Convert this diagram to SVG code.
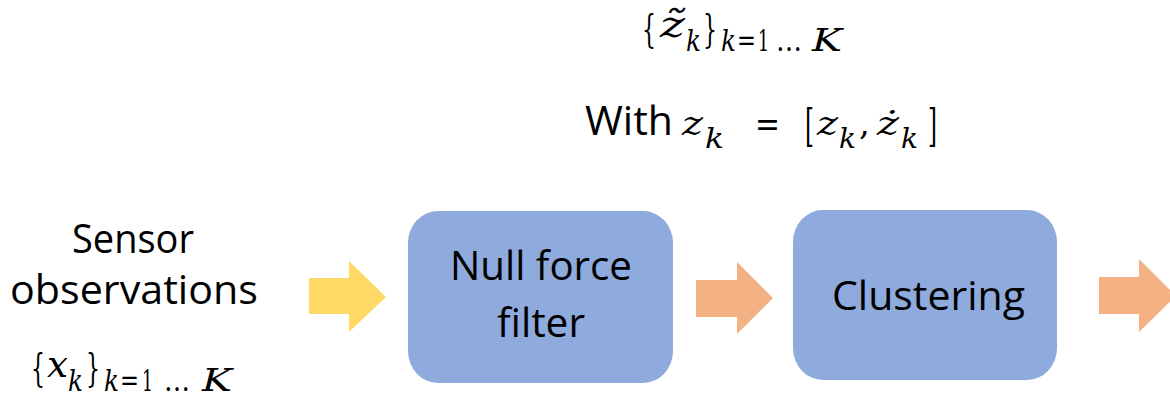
<svg xmlns="http://www.w3.org/2000/svg" width="1170" height="397" viewBox="0 0 1170 397">
<style>
.t{font-family:"Open Sans","Noto Sans","Liberation Sans",sans-serif;font-size:40px;fill:#000}
.mi{font-family:"DejaVu Serif","Liberation Serif",serif;font-style:italic;fill:#000}
.mu{font-family:"DejaVu Serif","Liberation Serif",serif;fill:#000}
.box{fill:#8FAADC}
</style>
<rect width="1170" height="397" fill="#fff"/>
<g id="connectors">
<polygon fill="#FFD966" points="309,278 349,278 349,261 386,297 349,332 349,314 309,314"/>
<polygon fill="#F4B183" points="696,280 737,280 737,262 773,298 737,334 737,317 696,317"/>
<polygon fill="#F4B183" points="1099,277 1139,277 1139,259 1176,296 1139,332 1139,314 1099,314"/>
</g>
<g id="sensor">
<text class="t" x="72" y="253" textLength="122" lengthAdjust="spacingAndGlyphs">Sensor</text>
<text class="t" x="10" y="304" textLength="248" lengthAdjust="spacingAndGlyphs">observations</text>
<text class="mu" font-size="40" x="31" y="381" textLength="14" lengthAdjust="spacingAndGlyphs">{</text>
<text class="mi" font-size="38" x="47" y="377" textLength="21" lengthAdjust="spacingAndGlyphs">x</text>
<text class="mi" font-size="29" x="68" y="391" textLength="15" lengthAdjust="spacingAndGlyphs">k</text>
<text class="mu" font-size="40" x="86" y="381" textLength="14" lengthAdjust="spacingAndGlyphs">}</text>
<text class="mi" font-size="29" x="104" y="391" textLength="15" lengthAdjust="spacingAndGlyphs">k</text>
<text class="mu" font-size="29" x="120" y="390" textLength="19" lengthAdjust="spacingAndGlyphs">=</text>
<text class="mu" font-size="29" x="142" y="391" textLength="11" lengthAdjust="spacingAndGlyphs">1</text>
<text class="mu" font-size="29" x="164" y="391" textLength="26" lengthAdjust="spacingAndGlyphs">…</text>
<text class="mi" font-size="32" x="202" y="391" textLength="30" lengthAdjust="spacingAndGlyphs">K</text>
</g>
<g id="null-force-filter">
<rect class="box" x="408" y="211" width="265" height="172" rx="30" ry="32"/>
<text class="t" x="450" y="280" textLength="182" lengthAdjust="spacingAndGlyphs">Null force</text>
<text class="t" x="497" y="337" textLength="88" lengthAdjust="spacingAndGlyphs">filter</text>
</g>
<g id="clustering">
<rect class="box" x="793" y="210" width="264" height="170" rx="30" ry="32"/>
<text class="t" x="832" y="310" textLength="193" lengthAdjust="spacingAndGlyphs">Clustering</text>
</g>
<g id="output-annotation">
<text class="mu" font-size="40" x="642" y="42" textLength="14" lengthAdjust="spacingAndGlyphs">{</text>
<text class="mi" font-size="38" x="660" y="37" textLength="25" lengthAdjust="spacingAndGlyphs">z̃</text>
<text class="mi" font-size="29" x="686" y="51" textLength="15" lengthAdjust="spacingAndGlyphs">k</text>
<text class="mu" font-size="40" x="703" y="42" textLength="14" lengthAdjust="spacingAndGlyphs">}</text>
<text class="mi" font-size="29" x="721" y="51" textLength="15" lengthAdjust="spacingAndGlyphs">k</text>
<text class="mu" font-size="29" x="737" y="50" textLength="19" lengthAdjust="spacingAndGlyphs">=</text>
<text class="mu" font-size="29" x="758" y="51" textLength="11" lengthAdjust="spacingAndGlyphs">1</text>
<text class="mu" font-size="29" x="776" y="51" textLength="26" lengthAdjust="spacingAndGlyphs">…</text>
<text class="mi" font-size="32" x="812" y="51" textLength="30" lengthAdjust="spacingAndGlyphs">K</text>
<text class="t" x="585" y="135" textLength="88" lengthAdjust="spacingAndGlyphs">With</text>
<text class="mi" font-size="34" x="682" y="135" textLength="21" lengthAdjust="spacingAndGlyphs">z</text>
<text class="mi" font-size="27" x="705" y="148" textLength="19" lengthAdjust="spacingAndGlyphs">k</text>
<text class="mu" font-size="36" x="755" y="136" textLength="25" lengthAdjust="spacingAndGlyphs">=</text>
<text class="mu" font-size="44" x="805" y="141" textLength="9" lengthAdjust="spacingAndGlyphs">[</text>
<text class="mi" font-size="34" x="817" y="135" textLength="21" lengthAdjust="spacingAndGlyphs">z</text>
<text class="mi" font-size="27" x="839" y="148" textLength="17" lengthAdjust="spacingAndGlyphs">k</text>
<text class="mu" font-size="34" x="859" y="135">,</text>
<text class="mi" font-size="34" x="877" y="135" textLength="22" lengthAdjust="spacingAndGlyphs">ż</text>
<text class="mi" font-size="27" x="901" y="148" textLength="17" lengthAdjust="spacingAndGlyphs">k</text>
<text class="mu" font-size="44" x="928" y="141" textLength="9" lengthAdjust="spacingAndGlyphs">]</text>
</g>
</svg>
